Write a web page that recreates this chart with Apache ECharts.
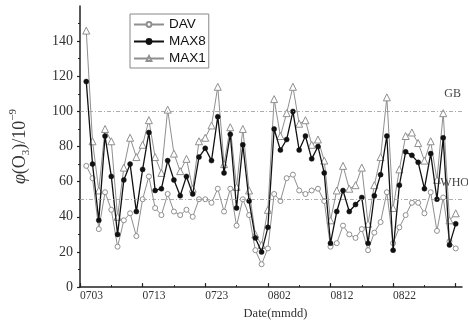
<!DOCTYPE html>
<html>
<head>
<meta charset="utf-8">
<script src="https://cdn.jsdelivr.net/npm/echarts@6/dist/echarts.min.js"></script>
<style>
  html, body { margin: 0; padding: 0; background: #fff; }
  #chart { width: 468px; height: 325px; }
</style>
</head>
<body>
<div id="chart"></div>
<script>
// day index 0 = 0703, points start at 0704 (index 1)
const tickLabels = ['0703', '0713', '0723', '0802', '0812', '0822'];
const tickDays = [0, 10, 20, 30, 40, 50, 60];
const minorDays = [5, 15, 25, 35, 45, 55];

const dav = [69, 62, 33, 54, 44, 23, 38, 42, 29, 50,
  63, 45, 41, 53, 43, 41, 44, 40, 50, 50,
  48, 56, 43, 56, 35, 50, 41, 21, 13, 22,
  53, 49, 62, 64, 55, 53, 55, 56, 49, 23,
  25, 35, 30, 28, 33, 21, 31, 37, 54, 25,
  34, 41, 48, 48, 42, 54, 32, 51, 26, 22];
const max8 = [117, 70, 38, 86, 63, 30, 61, 70, 43, 67,
  88, 55, 56, 72, 61, 52, 63, 53, 74, 79,
  72, 97, 65, 87, 45, 81, 49, 28, 20, 34,
  90, 78, 84, 100, 78, 86, 73, 80, 65, 25,
  43, 55, 43, 47, 51, 25, 52, 64, 86, 21,
  58, 77, 75, 71, 56, 76, 50, 85, 24, 36];
const max1 = [146, 83, 55, 90, 83, 40, 68, 85, 74, 81,
  95, 74, 65, 101, 76, 66, 73, 56, 83, 85,
  92, 114, 70, 91, 57, 90, 55, 30, 24, 44,
  107, 86, 99, 114, 93, 95, 81, 84, 72, 38,
  55, 69, 56, 58, 68, 36, 58, 74, 108, 45,
  67, 86, 88, 82, 72, 83, 61, 99, 38, 42];

const gbLimit = 100;
const whoLimit = 50;

const toPairs = arr => arr.map((v, i) => [i + 1, v]);

const chart = echarts.init(document.getElementById('chart'), null, { renderer: 'canvas' });

const serif = 'Liberation Serif';
const grey = '#8f8f8f';

chart.setOption({
  animation: false,
  backgroundColor: '#fff',
  grid: { left: 76, right: 6, top: 6, bottom: 33 },
  legend: {
    left: 130, top: 14,
    orient: 'vertical',
    itemWidth: 30, itemHeight: 6, itemGap: 2,
    padding: [3, 3, 2, 3],
    borderColor: '#888', borderWidth: 1,
    textStyle: { fontFamily: 'Liberation Sans', fontSize: 13.5, color: '#111', lineHeight: 15 },
    data: ['DAV', 'MAX8', 'MAX1']
  },
  xAxis: [{
    type: 'value', min: 0, max: 61,
    interval: 10,
    splitLine: { show: false },
    axisLine: { lineStyle: { color: '#222', width: 1.5 } },
    axisTick: { inside: true, length: 4, customValues: tickDays, lineStyle: { color: '#222', width: 1.2 } },
    axisLabel: {
      customValues: tickDays.slice(0, tickLabels.length),
      formatter: v => tickLabels[tickDays.indexOf(v)] || '',
      align: 'left', margin: 3,
      fontFamily: serif, fontSize: 11.5, color: '#333'
    },
    name: 'Date(mmdd)', nameLocation: 'middle', nameGap: 16,
    nameTextStyle: { fontFamily: serif, fontSize: 12.5, color: '#333', padding: [0, 0, 0, 9] }
  }, {
    type: 'value', min: 0, max: 61, position: 'bottom',
    interval: 10,
    splitLine: { show: false },
    axisLine: { show: false },
    axisTick: { inside: true, length: 2, customValues: minorDays, lineStyle: { color: '#222', width: 1 } },
    axisLabel: { show: false }
  }],
  yAxis: {
    type: 'value', min: 0, max: 160, interval: 20,
    splitLine: { show: false },
    axisLine: { show: true, lineStyle: { color: '#222', width: 1.5 } },
    axisTick: { show: true, length: 3, customValues: [0, 20, 40, 60, 80, 100, 120, 140], lineStyle: { color: '#222', width: 1.2 } },
    minorTick: { show: true, splitNumber: 2, length: 2, lineStyle: { color: '#222', width: 1 } },
    axisLabel: {
      customValues: [0, 20, 40, 60, 80, 100, 120, 140],
      margin: 7, fontFamily: serif, fontSize: 14, color: '#333'
    },
    name: '{phi|φ}{t|(O}{sub|3}{t|)/10}{sup|−9}',
    nameLocation: 'middle', nameRotate: 90, nameGap: 48,
    nameTextStyle: {
      rich: {
        phi: { fontFamily: serif, fontStyle: 'italic', fontSize: 18, color: '#333', lineHeight: 24 },
        t: { fontFamily: serif, fontSize: 18, color: '#333', lineHeight: 24 },
        sub: { fontFamily: serif, fontSize: 11, color: '#333', verticalAlign: 'bottom', lineHeight: 12 },
        sup: { fontFamily: serif, fontSize: 11, color: '#333', verticalAlign: 'top', lineHeight: 12 }
      }
    }
  },
  series: [{
    name: 'MAX1', type: 'line', data: toPairs(max1),
    symbol: 'triangle', symbolSize: 7, showAllSymbol: true,
    lineStyle: { color: grey, width: 1 },
    itemStyle: { color: '#fff', borderColor: grey, borderWidth: 1 },
    z: 2
  }, {
    name: 'DAV', type: 'line', data: toPairs(dav),
    symbol: 'circle', symbolSize: 5, showAllSymbol: true,
    lineStyle: { color: grey, width: 1 },
    itemStyle: { color: '#fff', borderColor: grey, borderWidth: 1 },
    markLine: {
      silent: true, symbol: 'none',
      lineStyle: { color: '#999', type: [4, 2, 1, 2], width: 0.8 },
      label: {
        position: 'insideEndTop', distance: [0, 8],
        fontFamily: serif, fontSize: 12, color: '#444'
      },
      data: [
        { yAxis: gbLimit, label: { formatter: 'GB', distance: [1, 12] } },
        { yAxis: whoLimit, label: { formatter: 'WHO', distance: [-7, 10] } }
      ]
    },
    z: 3
  }, {
    name: 'MAX8', type: 'line', data: toPairs(max8),
    symbol: 'circle', symbolSize: 5, showAllSymbol: true,
    lineStyle: { color: '#111', width: 1.3 },
    itemStyle: { color: '#111', borderColor: '#111', borderWidth: 0.5 },
    z: 4
  }]
});
</script>
</body>
</html>
